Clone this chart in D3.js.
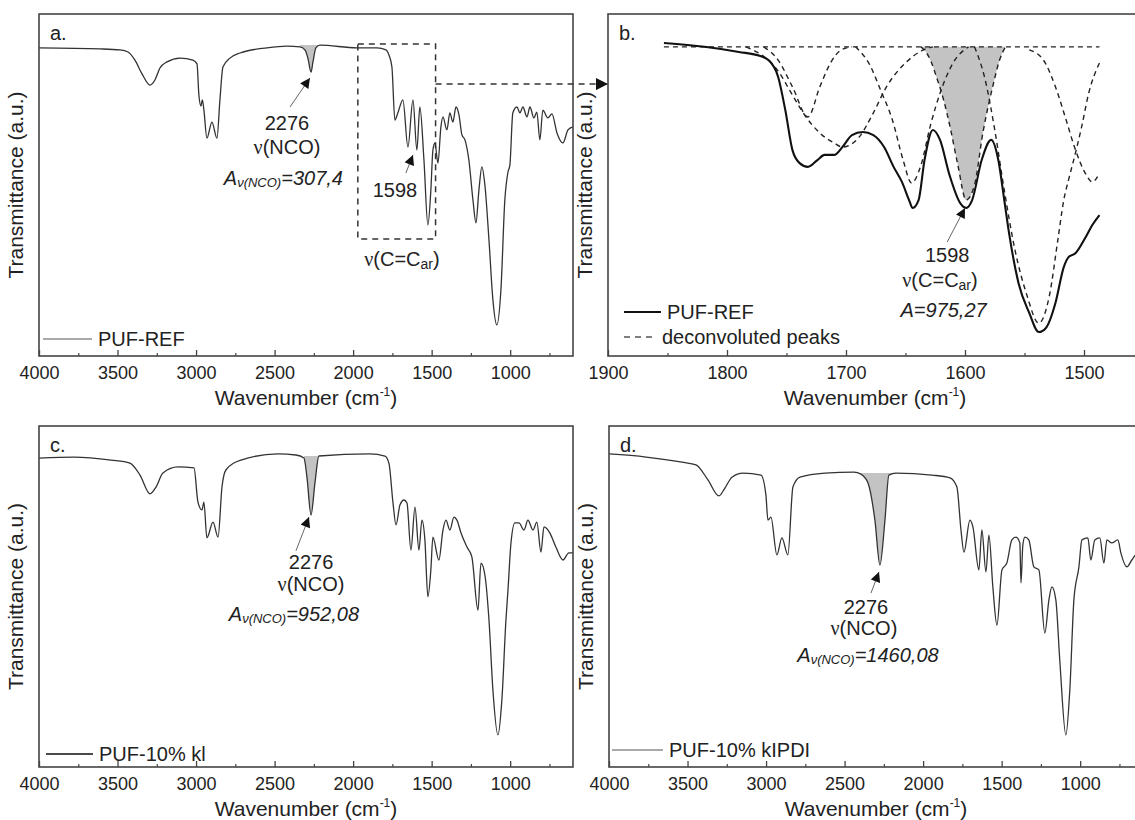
<!DOCTYPE html>
<html>
<head>
<meta charset="utf-8">
<script src="https://cdn.jsdelivr.net/npm/d3@7"></script>
<style>
  body { margin: 0; background: #fff; }
  text { font-family: "Liberation Sans", Arial, sans-serif; fill: #222; }
</style>
</head>
<body>
<svg id="chart" width="1135" height="820"></svg>
<script>
// spectra, [wavenumber cm-1, transmittance a.u. (0..100)]
const pufRef = [[4000,90.1],[3612,89.8],[3484,89.5],[3433,88.9],[3389,86.5],[3344,82.5],[3293,79.2],[3262,80.7],[3230,84.2],[3185,86.0],[3102,87.1],[3020,86.5],[2994,85.4],[2982,76.3],[2969,73.1],[2960,74.9],[2950,71.9],[2931,63.7],[2899,68.4],[2867,63.7],[2848,74.9],[2829,84.5],[2784,87.1],[2720,88.6],[2549,90.1],[2421,90.6],[2338,90.4],[2307,89.5],[2288,87.1],[2268,83.0],[2256,85.9],[2237,90.1],[2211,90.9],[1976,90.1],[1848,90.1],[1791,89.5],[1772,88.0],[1753,84.5],[1734,69.0],[1715,71.1],[1683,74.9],[1651,61.1],[1619,74.9],[1594,60.2],[1575,72.8],[1549,57.3],[1524,38.3],[1505,48.5],[1492,60.2],[1479,62.3],[1460,56.4],[1441,67.0],[1428,69.9],[1403,66.1],[1384,71.1],[1365,68.4],[1345,72.8],[1326,70.5],[1307,64.6],[1288,63.2],[1263,57.3],[1237,45.6],[1218,38.9],[1199,48.5],[1180,55.3],[1161,50.0],[1135,33.9],[1110,16.4],[1085,9.1],[1059,19.3],[1034,45.6],[1014,53.8],[1002,55.8],[983,71.1],[957,72.8],[938,71.1],[919,72.8],[893,69.9],[874,72.8],[849,69.6],[830,71.3],[811,63.2],[792,71.9],[760,69.6],[734,70.8],[702,65.2],[664,62.3],[632,66.1],[600,67.0]];

const pufKl = [[4000,90.6],[3777,90.9],[3542,90.0],[3421,89.1],[3357,85.6],[3293,80.1],[3255,82.1],[3211,86.2],[3115,88.0],[3013,87.7],[2988,77.7],[2962,75.4],[2950,77.7],[2931,67.2],[2892,71.8],[2860,67.4],[2835,82.1],[2810,87.1],[2714,90.0],[2479,91.8],[2364,91.5],[2313,90.6],[2294,85.0],[2268,73.9],[2243,83.3],[2218,91.2],[1893,91.8],[1797,91.2],[1772,89.1],[1746,77.4],[1727,71.0],[1702,76.8],[1676,78.3],[1657,77.4],[1632,63.6],[1606,76.2],[1581,63.6],[1562,72.4],[1543,66.6],[1524,49.9],[1505,57.8],[1492,67.4],[1454,60.7],[1428,69.5],[1409,72.4],[1384,69.5],[1358,73.3],[1339,72.4],[1313,68.6],[1275,64.5],[1244,61.6],[1205,46.0],[1186,59.8],[1161,56.3],[1135,43.1],[1110,22.6],[1078,9.4],[1053,19.6],[1027,43.1],[1014,51.9],[995,65.7],[970,71.6],[944,71.6],[912,69.5],[887,72.4],[855,69.5],[830,71.8],[804,63.0],[785,70.4],[747,68.6],[709,64.5],[664,60.7],[626,62.8],[600,62.8]];

const pufKlpdi = [[4000,91.8],[3764,90.9],[3535,89.4],[3446,88.6],[3370,84.2],[3300,79.5],[3262,81.8],[3217,85.0],[3147,86.2],[3032,85.6],[3001,79.8],[2988,72.4],[2969,73.3],[2931,62.2],[2899,67.2],[2861,62.2],[2829,82.1],[2784,85.0],[2625,86.2],[2440,86.5],[2396,85.9],[2351,83.3],[2307,72.4],[2275,59.2],[2243,72.4],[2218,85.6],[2173,86.2],[1944,85.6],[1829,84.8],[1785,82.1],[1759,69.5],[1740,63.0],[1702,72.4],[1683,70.4],[1645,57.8],[1626,69.5],[1600,57.2],[1581,68.0],[1556,52.8],[1530,41.6],[1498,57.8],[1467,59.8],[1435,66.6],[1409,67.4],[1384,65.7],[1377,54.0],[1365,65.1],[1352,67.4],[1327,66.6],[1295,58.7],[1263,57.8],[1225,39.3],[1199,49.0],[1180,52.8],[1155,49.0],[1130,31.4],[1091,9.4],[1066,22.6],[1040,49.0],[1008,58.7],[989,66.6],[951,67.2],[932,60.7],[907,66.6],[875,67.2],[849,59.8],[830,66.6],[799,65.7],[760,66.6],[741,62.8],[703,58.7],[671,60.7],[646,62.2],[600,62.5]];

// zoomed C=C region of PUF-REF and its deconvoluted peaks
const refZoom = [[1853,91.5],[1819,90.4],[1790,88.9],[1772,87.7],[1765,86.5],[1757,81.6],[1751,71.9],[1745,60.2],[1739,56.4],[1732,55.3],[1724,57.3],[1718,58.8],[1710,58.8],[1703,61.1],[1695,64.6],[1686,65.5],[1677,64.6],[1668,61.1],[1660,55.3],[1653,50.9],[1647,45.6],[1644,43.3],[1639,45.6],[1634,57.3],[1627,66.1],[1621,63.2],[1613,52.9],[1604,44.7],[1599,43.3],[1594,45.6],[1586,57.3],[1578,63.2],[1572,57.3],[1567,45.6],[1563,36.0],[1555,21.3],[1546,12.6],[1538,7.0],[1532,8.2],[1524,15.5],[1517,26.0],[1513,28.9],[1507,30.1],[1499,34.5],[1493,38.3],[1487,41.2]];
const peakBaseline = [[1853,90.4],[1487,90.4]];
const peak1732 = [[1769,90.4],[1757,86.5],[1745,78.7],[1732,69.9],[1722,78.7],[1713,85.7],[1704,89.5],[1695,90.4]];
const peak1703 = [[1784,90.4],[1757,83.3],[1745,76.3],[1736,71.1],[1722,65.2],[1710,62.3],[1703,61.1],[1689,64.0],[1677,71.1],[1666,78.7],[1650,85.7],[1635,89.5],[1627,90.4]];
const peak1645 = [[1692,90.4],[1680,85.1],[1671,77.8],[1661,69.0],[1652,57.3],[1645,50.6],[1637,55.8],[1629,67.5],[1620,77.8],[1610,85.7],[1597,90.4]];
const peak1598 = [[1637,90.4],[1629,86.5],[1624,81.6],[1618,74.9],[1612,66.1],[1606,55.8],[1599,45.6],[1592,50.0],[1585,65.2],[1576,79.8],[1571,86.5],[1566,90.4]];
const peak1538 = [[1592,90.4],[1583,80.7],[1575,66.1],[1567,48.5],[1558,31.0],[1548,17.8],[1538,9.6],[1529,17.8],[1522,33.9],[1517,45.6],[1513,51.5],[1508,58.2],[1502,67.0],[1496,76.9],[1487,85.7]];
const peak1493 = [[1546,89.5],[1534,86.5],[1524,78.7],[1515,69.0],[1508,61.1],[1499,53.5],[1493,50.9],[1487,53.5]];

const ticksWide = [4000, 3500, 3000, 2500, 2000, 1500, 1000];
const minorWide = [3750, 3250, 2750, 2250, 1750, 1250, 750];
const ticksZoom = [1900, 1800, 1700, 1600, 1500];
const minorZoom = [1850, 1750, 1650, 1550, 1450];

// NCO band limits that get shaded
const ncoA = [2338, 2211], ncoC = [2313, 2218], ncoD = [2396, 2173];

const svg = d3.select("#chart");
const defs = svg.append("defs");
defs.append("marker").attr("id", "head").attr("viewBox", "0 0 10 10")
    .attr("refX", 10).attr("refY", 5).attr("markerUnits", "userSpaceOnUse")
    .attr("markerWidth", 11).attr("markerHeight", 10).attr("orient", "auto")
    .append("path").attr("d", "M0,0L10,5L0,10z").attr("fill", "#111");
defs.append("marker").attr("id", "bighead").attr("viewBox", "0 0 10 10")
    .attr("refX", 10).attr("refY", 5).attr("markerUnits", "userSpaceOnUse")
    .attr("markerWidth", 15).attr("markerHeight", 12).attr("orient", "auto")
    .append("path").attr("d", "M0,0L10,5L0,10z").attr("fill", "#111");

function makePanel(p) {
    let x = d3.scaleLinear().domain(p.dom).range([p.left, p.left + p.width]);
    let y = d3.scaleLinear().domain([0, 100]).range([p.bottom, p.top]);
    let g = svg.append("g");
    g.append("clipPath").attr("id", "clip-" + p.id)
        .append("rect").attr("x", p.left).attr("y", p.top)
        .attr("width", p.width).attr("height", p.bottom - p.top);
    let plot = g.append("g").attr("clip-path", "url(#clip-" + p.id + ")");

    // bottom axis, ticks point inward
    g.append("g").attr("transform", `translate(0,${p.bottom})`)
        .call(d3.axisBottom(x).tickValues(p.major).tickSizeInner(-6).tickSizeOuter(0)
            .tickPadding(10).tickFormat(d3.format("d")))
        .call(a => a.select(".domain").remove())
        .call(a => a.selectAll("line").attr("stroke", "#444").attr("stroke-width", 1.3))
        .call(a => a.selectAll("text").attr("font-size", 18).attr("font-family", null).attr("fill", "#222"));
    g.append("g").attr("transform", `translate(0,${p.bottom})`)
        .call(d3.axisBottom(x).tickValues(p.minor.filter(v => x(v) < p.left + p.width)).tickSize(-3).tickFormat(""))
        .call(a => a.select(".domain").remove())
        .call(a => a.selectAll("line").attr("stroke", "#444").attr("stroke-width", 1.2));

    // axis titles
    let xt = g.append("text").attr("x", p.left + 267).attr("y", p.bottom + 49)
        .attr("text-anchor", "middle").attr("font-size", 21);
    xt.append("tspan").text("Wavenumber (cm");
    xt.append("tspan").text("-1").attr("font-size", 12).attr("dy", -9);
    xt.append("tspan").text(")").attr("dy", 9);
    g.append("text").attr("transform", `translate(${p.left - 16},${(p.top + p.bottom) / 2}) rotate(-90)`)
        .attr("text-anchor", "middle").attr("font-size", 21).text("Transmittance (a.u.)");

    g.append("text").attr("x", p.left + 11).attr("y", p.top + 26).attr("font-size", 20).text(p.id + ".");
    return { x, y, g, plot, p };
}

function drawFrame(P) {
    let p = P.p;
    P.g.append("rect").attr("x", p.left).attr("y", p.top).attr("width", p.width)
        .attr("height", p.bottom - p.top).attr("fill", "none")
        .attr("stroke", "#444").attr("stroke-width", 1.6);
}

function lineGen(P) {
    return d3.line().x(d => P.x(d[0])).y(d => P.y(d[1])).curve(d3.curveMonotoneX);
}

function shadeBand(P, data, band) {
    let pts = data.filter(d => d[0] <= band[0] && d[0] >= band[1]);
    let base = Math.max(pts[0][1], pts[pts.length - 1][1]);
    P.plot.append("path").datum(pts)
        .attr("fill", "#c3c3c3")
        .attr("d", d3.area().x(d => P.x(d[0])).y0(P.y(base)).y1(d => P.y(d[1])).curve(d3.curveMonotoneX));
}

function addText(g, px, py, parts, anchor) {
    let t = g.append("text").attr("x", px).attr("y", py)
        .attr("text-anchor", anchor || "middle").attr("font-size", 20);
    parts.forEach(q => {
        let s = t.append("tspan").text(q.t);
        if (q.size) s.attr("font-size", q.size);
        if (q.dy) s.attr("dy", q.dy);
        if (q.it) s.attr("font-style", "italic");
        if (q.serif) s.attr("font-family", "'Liberation Serif', serif");
    });
    return t;
}

function arrow(P, from, to, marker) {
    P.g.append("line")
        .attr("x1", P.x(from[0])).attr("y1", P.y(from[1]))
        .attr("x2", P.x(to[0])).attr("y2", P.y(to[1]))
        .attr("stroke", "#666").attr("stroke-width", 1)
        .attr("marker-end", "url(#" + (marker || "head") + ")");
}

function legendItem(P, x0, x1, yPix, label, dash, width) {
    P.g.append("line").attr("x1", x0).attr("x2", x1).attr("y1", yPix).attr("y2", yPix)
        .attr("stroke", width > 1.5 ? "#111" : "#555").attr("stroke-width", width)
        .attr("stroke-dasharray", dash);
    P.g.append("text").attr("x", x1 + 6).attr("y", yPix + 7).attr("font-size", 20).text(label);
}

const nco = (val) => [{ t: "A", it: true }, { t: "ν(NCO)", it: true, size: 13, dy: 2 }, { t: "=" + val, it: true, dy: -2 }];
const nuNco = [{ t: "ν", serif: true }, { t: "(NCO)" }];
const nuCC = [{ t: "ν", serif: true }, { t: "(C=C" }, { t: "ar", size: 14, dy: 3 }, { t: ")", dy: -3 }];

// ---- panel a
let A = makePanel({ id: "a", left: 39, top: 14, bottom: 356, width: 534, dom: [4000, 600], major: ticksWide, minor: minorWide });
shadeBand(A, pufRef, ncoA);
A.plot.append("path").datum(pufRef).attr("fill", "none").attr("stroke", "#333").attr("stroke-width", 1.3).attr("d", lineGen(A));
drawFrame(A);
addText(A.g, A.x(2421), A.y(66.1), [{ t: "2276" }]);
addText(A.g, A.x(2421), A.y(59.1), nuNco);
addText(A.g, A.x(2444), A.y(50.0), nco("307,4"));
arrow(A, [2402, 72.8], [2275, 81.3]);
addText(A.g, A.x(1734), A.y(46.5), [{ t: "1598" }]);
arrow(A, [1664, 53.5], [1619, 58.8]);
A.g.append("rect").attr("x", A.x(1970)).attr("y", A.y(91.2))
    .attr("width", A.x(1475) - A.x(1970)).attr("height", A.y(34.2) - A.y(91.2))
    .attr("fill", "none").attr("stroke", "#333").attr("stroke-width", 1.5).attr("stroke-dasharray", "6,5");
addText(A.g, A.x(1689), A.y(26.3), nuCC);
legendItem(A, 43, 92, 339, "PUF-REF", null, 1);

// ---- panel b
let B = makePanel({ id: "b", left: 608, top: 14, bottom: 356, width: 535.5, dom: [1900, 1450], major: ticksZoom, minor: minorZoom });
B.plot.append("path").datum(peak1598).attr("fill", "#c3c3c3")
    .attr("d", d3.area().x(d => B.x(d[0])).y0(B.y(90.4)).y1(d => B.y(d[1])).curve(d3.curveMonotoneX));
[peakBaseline, peak1732, peak1703, peak1645, peak1598, peak1538, peak1493].forEach(pk => {
    B.plot.append("path").datum(pk).attr("fill", "none").attr("stroke", "#222")
        .attr("stroke-width", 1.4).attr("stroke-dasharray", "5,4").attr("d", lineGen(B));
});
B.plot.append("path").datum(refZoom).attr("fill", "none").attr("stroke", "#111").attr("stroke-width", 2.1).attr("d", lineGen(B));
drawFrame(B);
addText(B.g, B.x(1615), B.y(27.5), [{ t: "1598" }]);
addText(B.g, B.x(1621), B.y(20.2), nuCC);
addText(B.g, B.x(1618), B.y(11.4), [{ t: "A=975,27", it: true }]);
arrow(B, [1615, 33.3], [1600, 43.3]);
legendItem(B, 624, 661, 312, "PUF-REF", null, 2);
legendItem(B, 624, 656, 337, "deconvoluted peaks", "6,5", 1.5);

// dashed connector from the box in a. to panel b.
svg.append("line").attr("x1", A.x(1475)).attr("x2", B.x(1900))
    .attr("y1", A.y(79.5)).attr("y2", A.y(79.5))
    .attr("stroke", "#333").attr("stroke-width", 1.5).attr("stroke-dasharray", "6,5")
    .attr("marker-end", "url(#bighead)");

// ---- panel c
let C = makePanel({ id: "c", left: 39, top: 426, bottom: 767, width: 534, dom: [4000, 600], major: ticksWide, minor: minorWide });
shadeBand(C, pufKl, ncoC);
C.plot.append("path").datum(pufKl).attr("fill", "none").attr("stroke", "#333").attr("stroke-width", 1.3).attr("d", lineGen(C));
drawFrame(C);
addText(C.g, C.x(2268), C.y(58.0), [{ t: "2276" }]);
addText(C.g, C.x(2268), C.y(51.6), nuNco);
addText(C.g, C.x(2377), C.y(42.8), nco("952,08"));
arrow(C, [2364, 63.4], [2281, 73.3]);
legendItem(C, 46, 93, 754, "PUF-10% kl", null, 1.6);

// ---- panel d
let D = makePanel({ id: "d", left: 609, top: 426, bottom: 767, width: 534, dom: [4000, 600], major: ticksWide, minor: minorWide });
shadeBand(D, pufKlpdi, ncoD);
D.plot.append("path").datum(pufKlpdi).attr("fill", "none").attr("stroke", "#333").attr("stroke-width", 1.3).attr("d", lineGen(D));
drawFrame(D);
addText(D.g, D.x(2364), D.y(44.9), [{ t: "2276" }]);
addText(D.g, D.x(2377), D.y(38.7), nuNco);
addText(D.g, D.x(2351), D.y(30.8), nco("1460,08"));
arrow(D, [2332, 51.0], [2281, 57.2]);
legendItem(D, 612, 663, 750, "PUF-10% kIPDI", null, 1);
</script>
</body>
</html>
